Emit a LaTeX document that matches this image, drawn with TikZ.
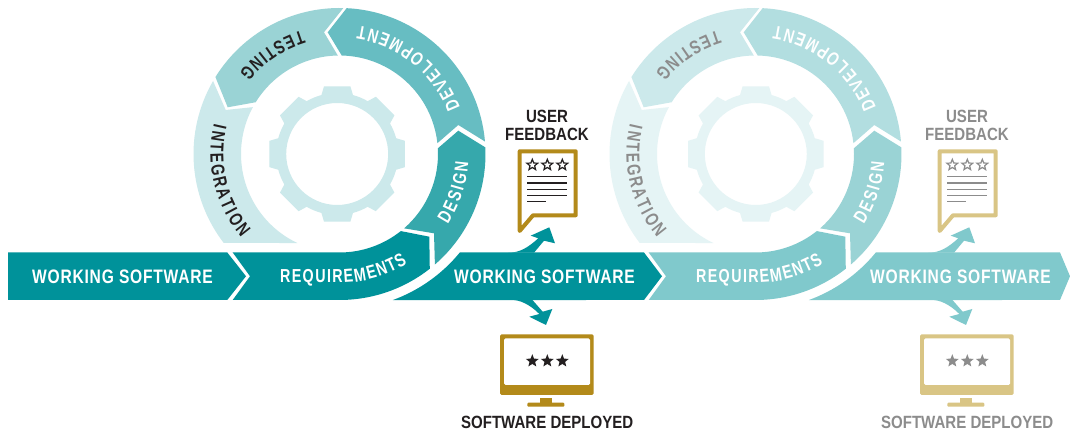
\documentclass[tikz,border=0pt]{standalone}
\usepackage{fontspec}
\setmainfont{Liberation Sans}
\newfontfamily\bandfam[FakeStretch=0.8,LetterSpace=4]{Liberation Sans}
\newfontfamily\ringfam[FakeStretch=0.76]{Liberation Sans}
\newfontfamily\titlefam[FakeStretch=0.85]{Liberation Sans}
\newcommand{\bandfont}{\bandfam\bfseries\fontsize{19.5}{21}\selectfont}
\newcommand{\ringfont}{\ringfam\bfseries\fontsize{18.8}{21}\selectfont}
\newcommand{\titlefont}{\titlefam\bfseries\fontsize{17.7}{19}\selectfont}
\usetikzlibrary{shapes.geometric,decorations.text,calc}
\definecolor{tA}{HTML}{00929A}
\definecolor{tB}{HTML}{36A8AC}
\definecolor{tC}{HTML}{67BDC2}
\definecolor{tD}{HTML}{9AD3D5}
\definecolor{tE}{HTML}{CCE9EB}
\definecolor{lA}{HTML}{80C9CC}
\definecolor{lB}{HTML}{9AD3D5}
\definecolor{lC}{HTML}{B2DEE0}
\definecolor{lD}{HTML}{CCE9EB}
\definecolor{lE}{HTML}{E5F4F5}
\definecolor{goldD}{HTML}{B38A1A}
\definecolor{goldL}{HTML}{D9C585}
\definecolor{inkD}{HTML}{231F20}
\definecolor{inkL}{HTML}{8C8C8C}
\tikzset{
  bandlabel/.style={text=white,font=\bandfont,inner sep=0pt,anchor=center},
  titlelabel/.style={font=\titlefont,inner sep=0pt,anchor=center,text=cInk},
  outlinestar/.style={star,star points=5,star point ratio=2.3,minimum size=11.3pt,inner sep=0pt,draw=cInk,line width=1.2pt,fill=white},
  solidstar/.style={star,star points=5,star point ratio=2.3,minimum size=13.5pt,inner sep=0pt,fill=cInk},
  rule/.style={draw=cInk,line width=1.1pt},
  frame/.style={draw=cGold,line width=4pt,line join=round,fill=white}
}
% #1 ring centre x, #2 gear offset, #3 band tip x (relative), #4 icon offset, #5 name prefix
\newcommand{\ringset}[5]{%
\begin{scope}[shift={(#1,281)}]
  % gear
  \fill[cE,even odd rule] ($(#2,0)+(-15:61)$)
    \foreach \a in {0,45,...,315}{
      -- ($(#2,0)+(\a-11:69)$) -- ($(#2,0)+(\a+11:69)$) -- ($(#2,0)+(\a+15:61)$)
      arc[start angle=\a+15,end angle=\a+30,radius=61]
    } -- cycle (#2,0) circle (51);
  % integration
  \fill[cE] (150:146) arc[start angle=150,end angle=217.5,radius=146]
     -- (244.7:98.5) arc[start angle=244.7,end angle=151.6,radius=98.5] -- (-113.8,44) -- cycle;
  % testing
  \fill[cD] (88.5:146) arc[start angle=88.5,end angle=148.2,radius=146]
     -- (-111.8,46.7) -- (148.3:98.5) arc[start angle=148.3,end angle=91,radius=98.5] -- (-15.5,121.7) -- cycle;
  % development
  \fill[cC] (4.9:146) arc[start angle=4.9,end angle=87.2,radius=146]
     -- (-11.8,121.7) -- (88.7:98.5) arc[start angle=88.7,end angle=6.3,radius=98.5] -- (118.8,29) -- cycle;
  % design
  \fill[cB] (2.6:146) arc[start angle=2.6,end angle=-49.2,radius=146]
     -- (94.5,-79.3) -- (-49:98.5) arc[start angle=-49,end angle=3.3,radius=98.5] -- (118.8,23.3) -- cycle;
  % requirements
  \fill[cA] (-106.8,-98.5) -- (0,-98.5) arc[start angle=-90,end angle=-51.5,radius=98.5]
     -- (89.8,-82.7) -- (-51.8:146) arc[start angle=-51.8,end angle=-90,radius=146]
     -- (-106.8,-146) -- (-89.5,-122.25) -- cycle;
  % working software after the ring
  \fill[cA] (-69.9:155.5) arc[start angle=-69.9,end angle=-39.3,radius=155.5]
     -- (304.5,-98.5) -- (#3,-122.25) -- (304.5,-146) -- cycle;
  % branch arrows
  \begin{scope}[xshift=#4]
  \fill[cA] (168.8,-98.7) .. controls (180,-98.7) and (188,-94) .. (198.8,-84.3)
     -- (191.2,-81.7) -- (209.8,-73.3) -- (215.5,-89.3) -- (204.5,-86.7) -- (194.5,-98.7) -- cycle;
  \fill[cA] (172.2,-145.8) .. controls (180,-146) and (190,-150) .. (199.8,-160)
     -- (189.8,-162.7) -- (206.5,-171) -- (212.8,-155) -- (203.2,-157.7) -- (192.8,-145.8) -- cycle;
  \end{scope}
  % curved labels
  \path[decorate,decoration={text along path,text color=white,text align={fit to path},text={|\ringfont|REQUIREMENTS}}]
     (-59.5,-129) -- (0,-129) arc[start angle=-90,end angle=-58.3,radius=129];
  \path[decorate,decoration={text along path,text color=white,text align={fit to path},text={|\ringfont|DESIGN}}]
     (-33:129) arc[start angle=-33,end angle=-3.5,radius=129];
  \path[decorate,decoration={text along path,text color=white,text align={fit to path},text={|\ringfont|DEVELOPMENT}}]
     (21:129) arc[start angle=21,end angle=81.5,radius=129];
  \path[decorate,decoration={text along path,text color=cInk,text align={fit to path},text={|\ringfont|TESTING}}]
     (107:129) arc[start angle=107,end angle=141,radius=129];
  \path[decorate,decoration={text along path,text color=cInk,text align={fit to path},text={|\ringfont|INTEGRATION}}]
     (166.5:129) arc[start angle=166.5,end angle=220.5,radius=129];
  % band label
  \node[bandlabel] (#5ws) at (205,-122.8) {WORKING SOFTWARE};
\end{scope}
% icons (absolute, offset from first set)
\begin{scope}[shift={(#4+#1-339.5,0)}]
  \node[titlelabel] (#5user) at (547,318.8) {USER};
  \node[titlelabel] (#5feed) at (547,300.6) {FEEDBACK};
  \draw[frame] (519.7,283.7) -- (575.7,283.7) -- (575.7,219.7) -- (533,219.7) -- (519.7,204) -- cycle;
  \node[outlinestar] (#5sa) at (532.3,270) {};
  \node[outlinestar] (#5sb) at (547.3,270) {};
  \node[outlinestar] (#5sc) at (562.3,270) {};
  \draw[rule] (527,258.3) -- (567.3,258.3);
  \draw[rule] (527,252) -- (567.3,252);
  \draw[rule] (527,245.7) -- (567.3,245.7);
  \draw[rule] (527,239.3) -- (567.3,239.3);
  \draw[rule] (527,233.3) -- (546.3,233.3);
  \fill[cGold,rounded corners=1.5pt] (500,100.7) rectangle (593.7,40);
  \fill[white,rounded corners=1.5pt] (504,96.7) rectangle (590,50);
  \fill[cGold] (540,36.7) rectangle (552,32.3);
  \fill[cGold,rounded corners=1pt] (527.3,32.3) rectangle (564.3,28.3);
  \node[solidstar] (#5ma) at (532.3,74) {};
  \node[solidstar] (#5mb) at (547.3,74) {};
  \node[solidstar] (#5mc) at (562.3,74) {};
  \node[titlelabel] (#5dep) at (547.2,13) {SOFTWARE DEPLOYED};
\end{scope}
}
\begin{document}
\begin{tikzpicture}[x=1pt,y=1pt]
\useasboundingbox (0,0) rectangle (1070,435);
\fill[white] (0,0) rectangle (1070,435);
% first working software chevron
\fill[tA] (8,182.5) -- (227.3,182.5) -- (246,158.75) -- (227.3,135) -- (8,135) -- cycle;
\node[bandlabel] (wsfirst) at (122.5,158.2) {WORKING SOFTWARE};
% second set first so that the first band's chevron stays on top
\colorlet{cA}{lA}\colorlet{cB}{lB}\colorlet{cC}{lC}\colorlet{cD}{lD}\colorlet{cE}{lE}
\colorlet{cGold}{goldL}\colorlet{cInk}{inkL}
\ringset{755.5}{0.3}{314.5}{4}{p}
\colorlet{cA}{tA}\colorlet{cB}{tB}\colorlet{cC}{tC}\colorlet{cD}{tD}\colorlet{cE}{tE}
\colorlet{cGold}{goldD}\colorlet{cInk}{inkD}
\ringset{339.5}{-2.3}{322.5}{0}{q}
\end{tikzpicture}
\end{document}
